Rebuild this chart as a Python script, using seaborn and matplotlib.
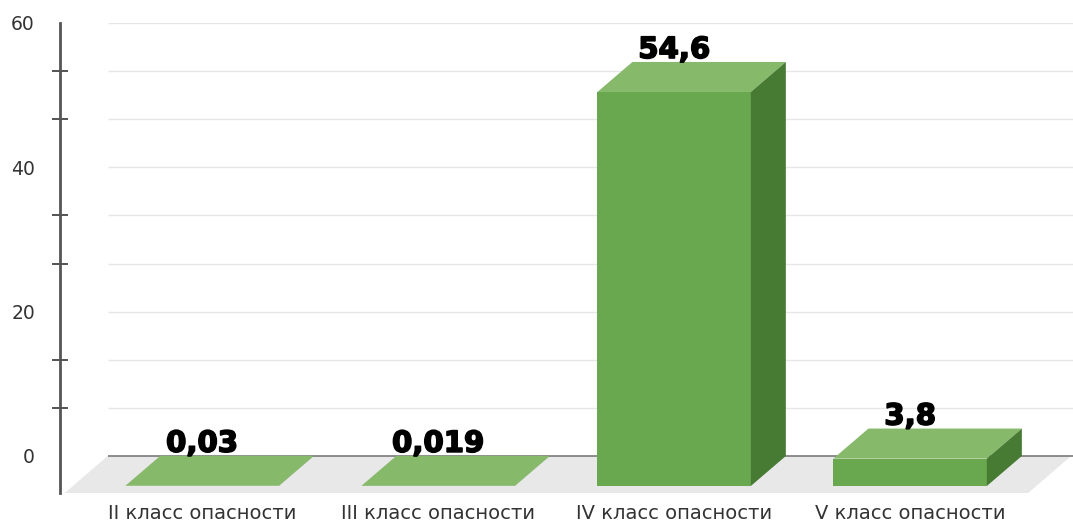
import numpy as np
import matplotlib
matplotlib.use("Agg")
import matplotlib.pyplot as plt
import matplotlib.patheffects as pe
from matplotlib.patches import Polygon
import seaborn as sns

categories = ["II класс опасности", "III класс опасности", "IV класс опасности", "V класс опасности"]
values = [0.03, 0.019, 54.6, 3.8]
value_labels = ["0,03", "0,019", "54,6", "3,8"]
y_ticks = [0, 20, 40, 60]

front_col = "#69a84e"
top_col = "#86b96a"
side_col = "#477a33"
floor_col = "#e8e8e8"

sns.set_style("white")
plt.rcParams['font.family'] = ['DejaVu Sans']

fig = plt.figure(figsize=(10.73, 5.23), dpi=100)
ax = fig.add_axes([60 / 1073, 30 / 523, (1073 - 60) / 1073, 470 / 523])

bar_w = 0.65
sns.barplot(x=categories, y=values, color=front_col, saturation=1, width=bar_w, ax=ax, zorder=3)
bars = list(ax.patches)

ax.set_xlim(-0.602, 3.69)
ax.set_ylim(-5.13, 60)

# 3d offsets in data units
dx = 35 / 236
dy = 30 / (433 / 60)

# floor
fdx = 43 / 236
floor = Polygon([(-0.582, -5.13), (3.5, -5.13), (3.5 + fdx, 0), (-0.582 + fdx, 0)],
                closed=True, facecolor=floor_col, edgecolor="none", zorder=1)
ax.add_patch(floor)

# gridlines
xg0 = (108 - 202) / 236
for g in np.arange(1, 10) * 20 / 3:
    ax.hlines(g, xg0, 3.69, color="#e6e6e6", lw=1, zorder=0)
ax.hlines(0, xg0, 3.69, color="#7a7a7a", lw=1.2, zorder=2)

for p, v, lab in zip(bars, values, value_labels):
    x0 = p.get_x()
    x1 = x0 + p.get_width()
    p.set_y(-dy)
    p.set_edgecolor("none")
    top = Polygon([(x0, v - dy), (x1, v - dy), (x1 + dx, v), (x0 + dx, v)],
                  closed=True, facecolor=top_col, edgecolor="none", zorder=3)
    side = Polygon([(x1, -dy), (x1 + dx, 0), (x1 + dx, v), (x1, v - dy)],
                   closed=True, facecolor=side_col, edgecolor="none", zorder=3)
    ax.add_patch(top)
    ax.add_patch(side)
    ax.text(x0 + p.get_width() / 2, v + 0.55, lab, ha="center", va="baseline",
            fontsize=21, fontweight="bold", color="black", zorder=5,
            path_effects=[pe.withStroke(linewidth=1.2, foreground="black")])

ax.set_yticks(y_ticks)
ax.set_yticks(np.arange(1, 9) * 20 / 3, minor=True)
ax.tick_params(axis="y", which="major", left=True, length=0, pad=18, labelsize=13.5, labelcolor="#333333")
ax.tick_params(axis="y", which="minor", left=True, direction="inout", length=11, width=1.3, color="#444444")
ax.tick_params(axis="x", length=0, pad=8, labelsize=14, labelcolor="#333333")
ax.grid(False)

for s in ["top", "right", "bottom"]:
    ax.spines[s].set_visible(False)
ax.spines["left"].set_color("#555555")
ax.spines["left"].set_linewidth(2)
ax.set_xlabel("")
ax.set_ylabel("")

fig.savefig("out.png", dpi=100)
